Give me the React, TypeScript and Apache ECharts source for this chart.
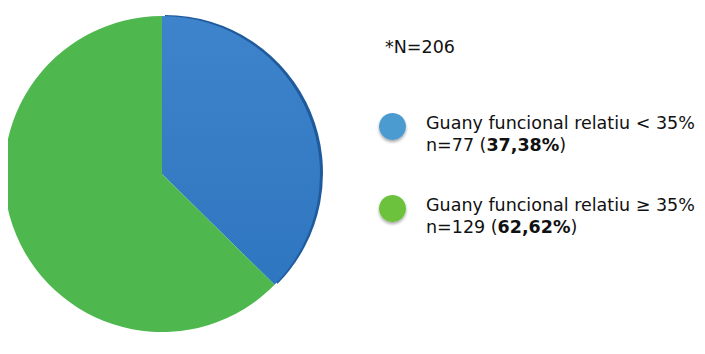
import React, { useEffect, useRef } from "react";
import * as echarts from "echarts";

const categories = ["Guany funcional relatiu < 35%", "Guany funcional relatiu ≥ 35%"];
const counts = [77, 129];
const total = 206;
const sliceColors = ["#3a80c8", "#4eb84e"];
const legendColors = ["#4b9bd1", "#6cc13e"];
const rimColors = ["#1f5a9c", "rgba(0,0,0,0)"];
const FONT = "'DejaVu Sans', 'Liberation Sans', Arial, sans-serif";

export default function App() {
  const ref = useRef<HTMLDivElement>(null);
  useEffect(() => {
    if (!ref.current) return;
    const chart = echarts.init(ref.current, undefined, { renderer: "svg" });
    const pct = (v: number) => ((v / total) * 100).toFixed(2).replace(".", ",") + "%";
    chart.setOption({
      animation: false,
      backgroundColor: "#ffffff",
      graphic: [
        {
          type: "text",
          left: 377,
          top: 30,
          style: { text: "*N=" + total, fontSize: 17.5, fill: "#111", fontFamily: FONT },
        },
      ],
      legend: {
        orient: "vertical",
        left: 366,
        top: 84,
        icon: "circle",
        itemWidth: 27,
        itemHeight: 27,
        itemGap: 23,
        selectedMode: false,
        data: categories.map((c, i) => ({
          name: c,
          itemStyle: { color: legendColors[i], shadowColor: "rgba(0,0,0,0.35)", shadowBlur: 3, shadowOffsetY: 2 },
        })),
        formatter: (name: string) => {
          const i = categories.indexOf(name);
          return name + "\nn=" + counts[i] + " ({b|" + pct(counts[i]) + "})";
        },
        textStyle: {
          fontSize: 17.5,
          color: "#111",
          lineHeight: 22,
          fontFamily: FONT,
          padding: [15, 0, 0, 15],
          rich: {
            b: { fontSize: 17.5, fontWeight: "bold", color: "#111", fontFamily: FONT, lineHeight: 22 },
          },
        },
      },
      series: [
        {
          type: "pie",
          center: [157, 165],
          radius: 158,
          startAngle: 90,
          clockwise: true,
          silent: true,
          label: { show: false },
          labelLine: { show: false },
          legendHoverLink: false,
          data: categories.map((c, i) => ({
            name: c + "_rim",
            value: counts[i],
            itemStyle: { color: rimColors[i] },
          })),
          z: 1,
        },
        {
          type: "pie",
          center: [154, 166],
          radius: 158,
          startAngle: 90,
          clockwise: true,
          label: { show: false },
          labelLine: { show: false },
          data: categories.map((c, i) => ({
            name: c,
            value: counts[i],
            itemStyle: {
              color:
                i === 0
                  ? new echarts.graphic.LinearGradient(0, 0, 0, 1, [
                      { offset: 0, color: "#3d84cc" },
                      { offset: 1, color: "#2f76c0" },
                    ])
                  : sliceColors[i],
            },
          })),
          z: 2,
        },
      ],
    });
    return () => chart.dispose();
  }, []);
  return <div ref={ref} style={{ width: 705, height: 354 }} />;
}
